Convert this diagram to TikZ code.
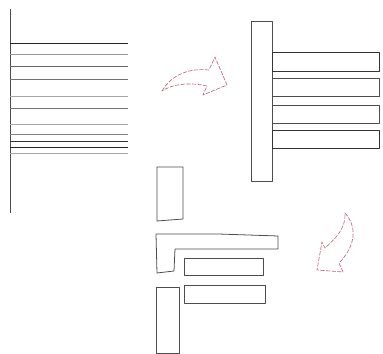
\documentclass[tikz,border=0pt]{standalone}
\usepackage{tikz}

\definecolor{sketchred}{RGB}{196,96,118}

\begin{document}
\begin{tikzpicture}[x=0.02cm, y=-0.02cm, line join=round,
	slab/.style={draw=black!70, line width=0.45pt},
	rib/.style={line width=0.5pt},
	turn/.style={draw=sketchred, line width=0.35pt, dash pattern=on 2.4pt off 0.8pt}]
	\useasboundingbox (0,0) rectangle (383,354);
	% stack of layers, left
	\coordinate (spine top) at (10,9);
	\coordinate (spine bot) at (10,213);
	\draw[black!70, line width=0.55pt] (spine top) -- (spine bot);
	\foreach \y/\c in {43/black!85, 54/black!40, 66/black!60, 79/black!55, 96/black!35, 108/black!55, 124/black!35, 134/black!50, 141/black!80, 147/black!85, 153/black!35}
		\draw[rib, \c] (10,\y) -- (128,\y);
	% comb, right
	\draw[slab] (251,21) rectangle (272,181);
	\draw[slab, draw=black!80] (272,52) rectangle (379,71);
	\draw[slab] (272,78) rectangle (379,96);
	\draw[slab] (272,105) rectangle (379,123);
	\draw[slab, draw=black!80] (272,130) rectangle (379,148);
	% pieces, bottom
	\draw[slab] (157,167) -- (183,167) -- (183,219) -- (157,221) -- cycle;
	\draw[slab] (156,234) -- (218,234) -- (278,236) -- (278,249) -- (175,249) -- (174,271) -- (157,273) -- cycle;
	\draw[slab] (184,258) rectangle (263,275);
	\draw[slab] (184,285) rectangle (265,303);
	\draw[slab] (156,287) rectangle (179,353);
	% turning arrows
	\draw[turn] (162,91) .. controls (172,74) and (190,68) .. (209,70)
		-- (215,57) -- (227,85) -- (203,95) -- (207,86)
		.. controls (190,82) and (172,84) .. cycle;
	\draw[turn] (345,213) .. controls (360,230) and (352,250) .. (339,263)
		-- (343,272) -- (317,270) -- (322,242) -- (325,248)
		.. controls (336,238) and (346,228) .. cycle;
\end{tikzpicture}
\end{document}
